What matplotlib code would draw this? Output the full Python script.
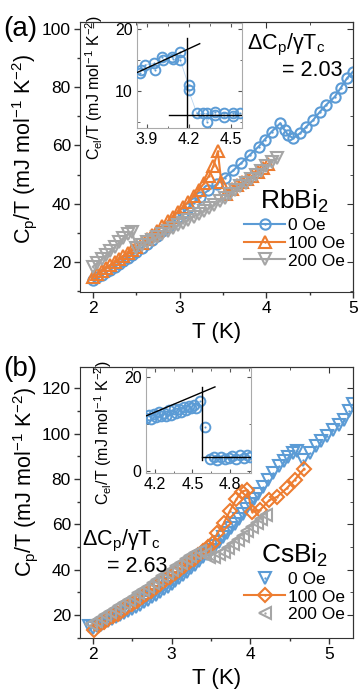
import matplotlib
matplotlib.use('Agg')
import matplotlib.pyplot as plt
from matplotlib.ticker import MultipleLocator, AutoMinorLocator
from matplotlib.legend_handler import HandlerTuple

plt.rcParams['font.family'] = ['Liberation Sans', 'DejaVu Sans']
plt.rcParams['mathtext.fontset'] = 'custom'
plt.rcParams['mathtext.rm'] = 'Liberation Sans'
plt.rcParams['mathtext.it'] = 'Liberation Sans:italic'
plt.rcParams['mathtext.bf'] = 'Liberation Sans:bold'

BLUE = '#5b9bd5'
ORANGE = '#ed7d31'
GRAY = '#a5a5a5'

# ---- (a) RbBi2 ----
rb_t0 = [2.00, 2.05, 2.10, 2.15, 2.20, 2.25, 2.30, 2.35, 2.40, 2.45, 2.50, 2.56, 2.62, 2.68,
         2.74, 2.80, 2.86, 2.92, 2.98, 3.04, 3.10, 3.16, 3.23, 3.33, 3.43, 3.52, 3.62, 3.71,
         3.81, 3.91, 3.98, 4.06, 4.16, 4.21, 4.25, 4.31, 4.39, 4.46, 4.54, 4.62, 4.69, 4.79,
         4.86, 4.93, 5.00]
rb_c0 = [14.0, 14.8, 15.6, 16.5, 17.4, 18.3, 19.3, 20.3, 21.3, 22.4, 23.5, 24.8, 26.2, 27.6,
         29.1, 30.6, 32.2, 33.8, 35.4, 37.0, 38.7, 40.4, 42.4, 44.6, 46.8, 49.0, 51.5, 54.0,
         56.8, 59.6, 62.0, 64.7, 67.6, 65.3, 63.6, 62.5, 64.2, 66.4, 68.7, 71.6, 73.9, 76.7,
         79.8, 83.0, 85.3]
rb_t100 = [2.00, 2.05, 2.10, 2.15, 2.20, 2.25, 2.30, 2.35, 2.40, 2.45, 2.50, 2.56, 2.62, 2.68,
           2.74, 2.80, 2.86, 2.92, 2.98, 3.04, 3.10, 3.16, 3.22, 3.28, 3.34, 3.39, 3.44, 3.48,
           3.53, 3.60, 3.66, 3.72, 3.78, 3.84, 3.90, 3.96, 4.02]
rb_c100 = [14.8, 15.8, 16.9, 18.0, 19.0, 20.1, 21.1, 22.2, 23.2, 24.3, 25.3, 26.6, 27.9, 29.3,
           30.8, 32.4, 34.0, 35.6, 37.2, 38.9, 40.6, 42.6, 44.7, 47.0, 49.7, 53.0, 58.0, 47.5,
           43.5, 45.2, 46.3, 47.4, 48.5, 49.7, 51.0, 52.3, 53.8]
rb_t200 = [2.00, 2.05, 2.10, 2.15, 2.20, 2.25, 2.30, 2.35, 2.40, 2.45, 2.50, 2.56, 2.62, 2.68,
           2.74, 2.80, 2.86, 2.92, 2.98, 3.04, 3.10, 3.16, 3.22, 3.28, 3.34, 3.40, 3.46, 3.52,
           3.58, 3.64, 3.70, 3.76, 3.82, 3.88, 3.94, 4.00, 4.06, 4.12]
rb_c200 = [18.5, 19.8, 21.0, 22.4, 23.8, 25.2, 26.8, 28.3, 29.6, 30.5, 25.0, 25.8, 26.8, 27.7,
           28.6, 29.6, 30.6, 31.6, 32.6, 33.6, 34.6, 35.6, 36.6, 37.6, 38.6, 39.7, 40.9, 42.1,
           43.4, 44.7, 46.0, 47.3, 48.6, 50.0, 51.4, 52.8, 54.3, 55.8]
rb_in_t = [3.85, 3.86, 3.89, 3.95, 3.96, 4.01, 4.02, 4.08, 4.09, 4.14, 4.14, 4.20, 4.20, 4.26,
           4.30, 4.33, 4.33, 4.39, 4.39, 4.45, 4.45, 4.52, 4.52, 4.57]
rb_in_c = [12.8, 13.4, 14.2, 14.4, 13.4, 15.5, 15.0, 15.5, 15.2, 16.3, 15.0, 10.9, 10.1, 6.3,
           6.3, 6.3, 5.0, 6.6, 6.0, 6.3, 5.8, 6.3, 5.9, 6.3]
rb_fit_sc = ([3.83, 4.28], [12.9, 17.6])
rb_fit_tc = ([4.19, 4.19], [4.0, 18.5])
rb_fit_n = ([4.06, 4.58], [6.1, 6.1])

# ---- (b) CsBi2 ----
cs_t0 = [1.95, 2.00, 2.05, 2.10, 2.15, 2.20, 2.25, 2.30, 2.35, 2.40, 2.45, 2.50, 2.55, 2.60,
         2.65, 2.70, 2.75, 2.80, 2.85, 2.90, 2.95, 3.00, 3.05, 3.10, 3.15, 3.20, 3.25, 3.30,
         3.35, 3.40, 3.45, 3.50, 3.55, 3.60, 3.65, 3.70, 3.75, 3.80, 3.85, 3.90, 3.95, 4.00,
         4.05, 4.10, 4.16, 4.22, 4.29, 4.36, 4.42, 4.48, 4.54, 4.59, 4.67, 4.76, 4.83, 4.90,
         4.97, 5.05, 5.12, 5.18, 5.25, 5.30]
cs_c0 = [15.0, 14.3, 15.0, 15.8, 16.6, 17.4, 18.2, 19.0, 19.9, 20.8, 21.7, 22.6, 23.6, 24.6,
         25.6, 26.7, 27.8, 28.9, 30.1, 31.3, 32.5, 33.8, 35.1, 36.4, 37.8, 39.2, 40.7, 42.2,
         43.8, 45.4, 47.1, 48.8, 50.6, 52.4, 54.3, 56.2, 58.2, 60.2, 62.3, 64.4, 66.6, 68.8,
         71.1, 73.5, 76.4, 79.4, 82.8, 85.6, 87.8, 89.7, 91.3, 92.3, 88.4, 91.5, 94.5, 96.8,
         99.0, 101.5, 104.0, 106.0, 110.0, 113.0]
cs_t100 = [2.02, 2.08, 2.14, 2.20, 2.26, 2.32, 2.38, 2.44, 2.50, 2.56, 2.62, 2.68, 2.74, 2.80,
           2.86, 2.92, 2.98, 3.04, 3.10, 3.16, 3.22, 3.28, 3.34, 3.40, 3.46, 3.52, 3.58, 3.66,
           3.74, 3.82, 3.89, 3.96, 4.02, 4.12, 4.24, 4.34, 4.46, 4.56, 4.68]
cs_c100 = [13.6, 15.5, 16.8, 18.1, 19.4, 20.7, 22.1, 23.5, 24.9, 26.3, 27.8, 29.3, 30.8, 32.3,
           33.8, 35.3, 36.8, 38.4, 40.0, 41.6, 43.2, 44.8, 46.4, 48.1, 49.9, 52.0, 56.0, 60.4,
           66.0, 71.0, 74.5, 75.1, 65.6, 66.3, 70.7, 72.2, 75.9, 79.6, 84.5]
cs_t200 = [1.98, 2.04, 2.10, 2.16, 2.22, 2.28, 2.34, 2.40, 2.46, 2.52, 2.58, 2.64, 2.70, 2.76,
           2.82, 2.88, 2.94, 3.00, 3.06, 3.12, 3.18, 3.24, 3.30, 3.36, 3.42, 3.48, 3.54, 3.60,
           3.66, 3.72, 3.78, 3.84, 3.90, 3.96, 4.02, 4.08, 4.14, 4.20]
cs_c200 = [16.0, 17.3, 18.6, 19.9, 21.2, 22.5, 23.9, 25.3, 26.7, 28.1, 29.6, 31.1, 32.6, 34.1,
           35.6, 37.1, 38.6, 40.1, 41.6, 43.1, 44.6, 46.0, 47.3, 48.3, 47.0, 45.5, 45.8, 46.8,
           48.0, 49.5, 51.2, 53.0, 55.0, 57.0, 59.0, 60.8, 62.5, 64.2]
cs_in_t = [4.13, 4.15, 4.17, 4.19, 4.21, 4.23, 4.25, 4.27, 4.29, 4.31, 4.33, 4.35, 4.37, 4.39,
           4.41, 4.43, 4.45, 4.47, 4.49, 4.51, 4.53, 4.56, 4.60, 4.64, 4.67, 4.70, 4.73, 4.76,
           4.79, 4.82, 4.85, 4.88, 4.91, 4.94, 4.96]
cs_in_c = [11.2, 12.0, 11.0, 12.2, 11.4, 12.5, 11.6, 12.4, 11.8, 12.9, 12.0, 13.1, 12.3, 13.2,
           12.6, 13.6, 12.9, 13.8, 13.3, 14.0, 13.5, 15.0, 9.4, 2.6, 2.9, 2.4, 3.0, 2.5, 2.8,
           3.1, 2.6, 3.3, 2.8, 3.4, 2.9]
cs_fit_sc = ([4.11, 4.68], [11.5, 17.9])
cs_fit_tc = ([4.58, 4.58], [2.3, 17.9])
cs_fit_n = ([4.58, 5.01], [2.9, 2.9])

W, H = 359, 690
fig = plt.figure(figsize=(W / 100, H / 100), dpi=100)


def box(l, t, r, b):
    return [l / W, 1 - b / H, (r - l) / W, (b - t) / H]


def series(ax, t, c, color, marker, ms, line=True, z=2):
    h = ax.plot(t, c, ls='-' if line else 'none', lw=1.5, color=color, marker=marker,
                ms=ms, mfc='none', mec=color, mew=1.5, zorder=z)[0]
    d = ax.plot(t, c, ls='none', marker='o', ms=1.7, mec='none', mfc=color, zorder=z)[0]
    return (h, d)


def style_main(ax, xmaj, ymaj):
    ax.xaxis.set_major_locator(MultipleLocator(xmaj))
    ax.xaxis.set_minor_locator(AutoMinorLocator(2))
    ax.yaxis.set_major_locator(MultipleLocator(ymaj))
    ax.yaxis.set_minor_locator(AutoMinorLocator(2))
    ax.tick_params(which='both', direction='out', labelsize=12.5, width=1, color='#333333',
                   pad=2.5)
    ax.tick_params(which='major', length=4)
    ax.tick_params(which='minor', length=2.5)
    for s in ax.spines.values():
        s.set_color('#333333')
    top = ax.secondary_xaxis('top')
    right = ax.secondary_yaxis('right')
    top.xaxis.set_major_locator(MultipleLocator(xmaj))
    top.xaxis.set_minor_locator(AutoMinorLocator(2))
    right.yaxis.set_major_locator(MultipleLocator(ymaj))
    right.yaxis.set_minor_locator(AutoMinorLocator(2))
    for sec in (top, right):
        sec.tick_params(which='both', direction='in', labeltop=False, labelright=False,
                        color='#333333')
        sec.tick_params(which='major', length=4)
        sec.tick_params(which='minor', length=2.5)
        for s in sec.spines.values():
            s.set_color('#333333')


def style_inset(ax, xmaj, ymaj):
    ax.xaxis.set_major_locator(MultipleLocator(xmaj))
    ax.xaxis.set_minor_locator(AutoMinorLocator(2))
    ax.yaxis.set_major_locator(MultipleLocator(ymaj))
    ax.yaxis.set_minor_locator(AutoMinorLocator(2))
    ax.tick_params(which='both', direction='in', top=True, right=True, labelsize=11.5,
                   color='#555555', pad=3)
    ax.tick_params(which='major', length=3)
    ax.tick_params(which='minor', length=1.8)
    for s in ax.spines.values():
        s.set_color('#aaaaaa')
    ax.set_ylabel('C$_\\mathregular{el}$/T (mJ mol$^\\mathregular{-1}$ K$^\\mathregular{-2}$)',
                  fontsize=11.5, labelpad=1)


ylab = 'C$_\\mathregular{p}$/T (mJ mol$^\\mathregular{-1}$ K$^\\mathregular{-2}$)'
dlab = '$\\mathregular{\\Delta}$C$_\\mathregular{p}$/$\\mathregular{\\gamma}$T$_\\mathregular{c}$'
tup = {tuple: HandlerTuple(ndivide=1)}

# ---------- panel (a) ----------
axa = fig.add_axes(box(80, 22, 353, 292))
ha0 = series(axa, rb_t0, rb_c0, BLUE, 'o', 7.4, z=2)
ha1 = series(axa, rb_t100, rb_c100, ORANGE, '^', 8.6, z=3)
ha2 = series(axa, rb_t200, rb_c200, GRAY, 'v', 8.6, z=4)
axa.set_xlim(1.85, 5.0)
axa.set_ylim(9.8, 102.3)
style_main(axa, 1, 20)
axa.set_ylabel(ylab, fontsize=15.5)
axa.yaxis.set_label_coords(-0.15, 0.53)
axa.set_xlabel('T (K)', fontsize=16)
axa.xaxis.set_label_coords(0.5, -0.11)
axa.legend([ha0, ha1, ha2], ['0 Oe', '100 Oe', '200 Oe'], handler_map=tup,
           title='RbBi$_\\mathregular{2}$', title_fontsize=19, fontsize=12.5,
           loc='upper left', bbox_to_anchor=(0.6, 0.385), frameon=False,
           borderpad=0, borderaxespad=0, handlelength=2.4, handletextpad=0.15,
           labelspacing=0.15)
fig.text(247 / W, 1 - 45 / H, dlab, fontsize=15.5, ha='left', va='center')
fig.text(342 / W, 1 - 70 / H, '= 2.03', fontsize=15.5, ha='right', va='center')
fig.text(3 / W, 1 - 29 / H, '(a)', fontsize=20, ha='left', va='center')

ia = fig.add_axes(box(136.7, 23.3, 241.7, 127.7))
ia.plot(rb_in_t, rb_in_c, ls='-', lw=0.6, color='#b9d5ef', zorder=1)
ia.plot(rb_in_t, rb_in_c, ls='none', marker='o', ms=7.0, mfc='none', mec=BLUE, mew=1.4, zorder=3)
ia.plot(rb_in_t, rb_in_c, ls='none', marker='o', ms=1.5, mec='none', mfc=BLUE, zorder=3)
for xs, ys in (rb_fit_sc, rb_fit_tc, rb_fit_n):
    ia.plot(xs, ys, color='k', lw=1.0, zorder=4)
ia.set_xlim(3.83, 4.58)
ia.set_ylim(4.0, 20.9)
style_inset(ia, 0.3, 10)
ia.yaxis.set_label_coords(-0.3, 0.38)

# ---------- panel (b) ----------
axb = fig.add_axes(box(80, 367, 353, 638))
hb0 = series(axb, cs_t0, cs_c0, BLUE, 'v', 8.0, line=False, z=2)
hb1 = series(axb, cs_t100, cs_c100, ORANGE, 'D', 7.0, z=3)
hb2 = series(axb, cs_t200, cs_c200, GRAY, '<', 8.0, line=False, z=4)
axb.set_xlim(1.84, 5.3)
axb.set_ylim(9.9, 129.4)
style_main(axb, 1, 20)
axb.set_ylabel(ylab, fontsize=15.5)
axb.yaxis.set_label_coords(-0.145, 0.575)
axb.set_xlabel('T (K)', fontsize=16)
axb.xaxis.set_label_coords(0.5, -0.112)
axb.legend([hb0, hb1, hb2], ['0 Oe', '100 Oe', '200 Oe'], handler_map=tup,
           title='CsBi$_\\mathregular{2}$', title_fontsize=19, fontsize=12.5,
           loc='upper left', bbox_to_anchor=(0.6, 0.355), frameon=False,
           borderpad=0, borderaxespad=0, handlelength=2.4, handletextpad=0.15,
           labelspacing=0.15)
fig.text(82 / W, 1 - 541 / H, dlab, fontsize=15.5, ha='left', va='center')
fig.text(107 / W, 1 - 566 / H, '= 2.63', fontsize=15.5, ha='left', va='center')
fig.text(3 / W, 1 - 369 / H, '(b)', fontsize=20, ha='left', va='center')

ib = fig.add_axes(box(145.7, 367.7, 250.7, 472.7))
ib.plot(cs_in_t, cs_in_c, ls='none', marker='o', ms=7.0, mfc='none', mec=BLUE, mew=1.4, zorder=3)
ib.plot(cs_in_t, cs_in_c, ls='none', marker='o', ms=1.5, mec='none', mfc=BLUE, zorder=3)
for xs, ys in (cs_fit_sc, cs_fit_tc, cs_fit_n):
    ib.plot(xs, ys, color='k', lw=1.0, zorder=4)
ib.set_xlim(4.126, 4.966)
ib.set_ylim(-0.4, 22.0)
style_inset(ib, 0.3, 20)
ib.yaxis.set_label_coords(-0.3, 0.38)

fig.savefig('out.png', dpi=100)
